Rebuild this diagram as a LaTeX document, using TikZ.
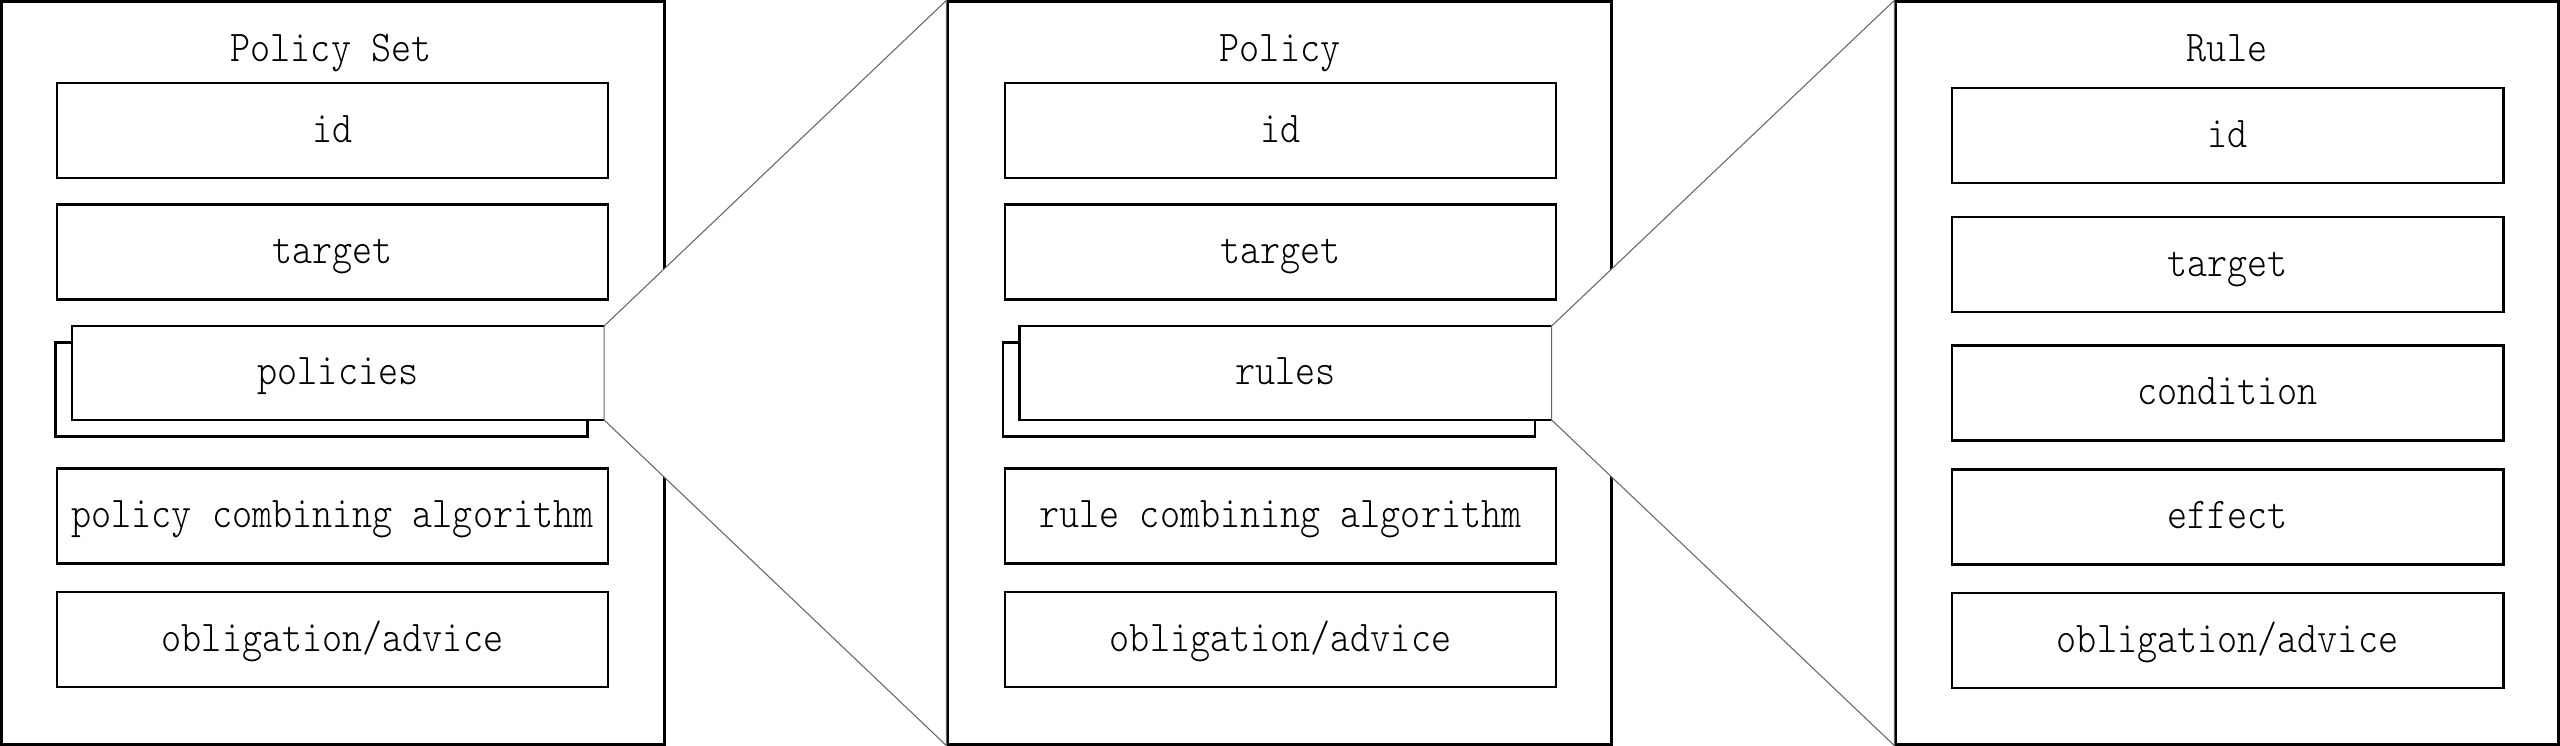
\documentclass[tikz,border=0pt]{standalone}
\usepackage{fontspec}
\usepackage{tikz}
\newfontfamily\boxfont{lmmonolt10-regular.otf}[FakeStretch=0.87]
\newcommand{\boxsize}{\boxfont\fontsize{12.5pt}{15pt}\selectfont}

\begin{document}
\begin{tikzpicture}[x=0.01cm, y=-0.01cm,
    panel/.style={draw, line width=0.8pt, minimum width=6.63cm, minimum height=7.42cm, inner sep=0pt},
    field/.style={draw, line width=0.75pt, fill=white, minimum width=5.51cm, minimum height=0.95cm, inner sep=0pt, font=\boxsize, text height=9pt, text depth=2.2pt},
    stack/.style={field, minimum width=5.32cm, minimum height=0.94cm},
    heading/.style={font=\boxsize, anchor=base, inner sep=0pt},
    edge/.style={line width=0.75pt},
    zoomline/.style={draw=black!60, line width=0.3pt, fill=white},
  ]
  \useasboundingbox (0,0) rectangle (2560,746);
  % frames
  \node[panel] (set) at (333,373) {};
  \node[panel] (policy) at (1279.5,373) {};
  \node[panel, minimum width=6.62cm] (rule) at (2227,373) {};
  % headings
  \node[heading] (settitle) at (331,62) {Policy Set};
  \node[heading] (policytitle) at (1280,62) {Policy};
  \node[heading] (ruletitle) at (2227,62) {Rule};
  % policy set fields
  \foreach \n/\y/\t in {sid/130.5/id, stgt/252/target, spca/516/policy combining algorithm, sobl/639.5/{obligation/advice}} {
    \node[field] (\n) at (332.5,\y) {\t};
  }
  \node[stack] (sback) at (321.5,389.5) {};
  \node[stack, draw=none, outer sep=0pt] (spol) at (338,373) {policies};
  \draw[edge] (spol.south east) -- (spol.south west) -- (spol.north west) -- (spol.north east);
  % policy fields
  \foreach \n/\y/\t in {pid/130.5/id, ptgt/252/target, prca/516/rule combining algorithm, pobl/639.5/{obligation/advice}} {
    \node[field] (\n) at (1280.5,\y) {\t};
  }
  \node[stack] (pback) at (1269,389.5) {};
  \node[stack, draw=none, outer sep=0pt] (prul) at (1285.5,373) {rules};
  \draw[edge] (prul.south east) -- (prul.south west) -- (prul.north west) -- (prul.north east);
  % rule fields
  \foreach \n/\y/\t in {rid/135.5/id, rtgt/264.5/target, rcond/393/condition, reff/517/effect, robl/640.5/{obligation/advice}} {
    \node[field] (\n) at (2227.5,\y) {\t};
  }
  % zoom lines
  \filldraw[zoomline] (spol.north east) -- (policy.north west) -- (policy.south west) -- (spol.south east) -- cycle;
  \filldraw[zoomline] (prul.north east) -- (rule.north west) -- (rule.south west) -- (prul.south east) -- cycle;
\end{tikzpicture}
\end{document}
